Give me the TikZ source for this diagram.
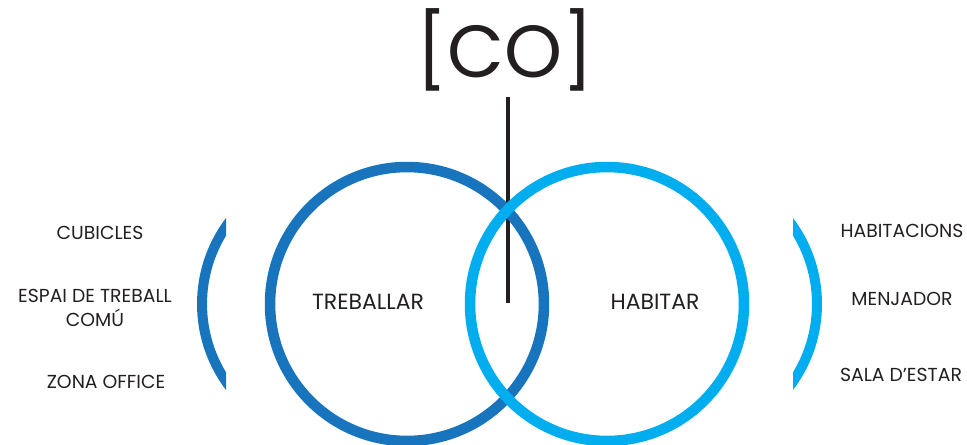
\documentclass[tikz,border=0pt]{standalone}
\usepackage{fontspec}
\setmainfont{Poppins}
\usetikzlibrary{positioning}
\definecolor{workblue}{HTML}{1874BC}
\definecolor{liveblue}{HTML}{00AEEF}
\definecolor{inkgray}{HTML}{231F20}

\begin{document}
\begin{tikzpicture}[x=0.02cm, y=0.02cm, inkgray,
  ring/.style={circle, draw, line width=6pt, minimum size=5.48cm, inner sep=0pt},
  bracketarc/.style={line width=5.7pt},
  areatext/.style={font=\fontsize{12.5}{15}\selectfont, align=center, inner sep=1pt},
  itemtext/.style={font=\fontsize{10.7}{13.5}\selectfont, align=center, inner sep=1pt}]

\useasboundingbox (0,0) rectangle (967,444);

% ============ Title and stem ============
\node[font=\fontsize{42}{42}\selectfont] (co) at (505,394) {[CO]};
\coordinate (stemtop) at (508,347);
\coordinate (meet) at (508,141);
\draw[line width=2.8pt] (stemtop) -- (meet);

% ============ The two circles ============
\node[ring, draw=workblue] (work) at (407,140) {};
\node[ring, draw=liveblue] (live) at (607,140) {};

\node[areatext] (treballar) at (368,142) {TREBALLAR};
\node[areatext] (habitar) at (655,142) {HABITAR};

% ============ Side brackets ============
\begin{scope}
  \clip (0,0) rectangle (226,444);
  \draw[bracketarc, workblue] (339,140) circle (2.74cm);
\end{scope}
\begin{scope}
  \clip (793,0) rectangle (967,444);
  \draw[bracketarc, liveblue] (680,140) circle (2.74cm);
\end{scope}

% Left: working spaces
\node[itemtext] (cubicles) at (100,211) {CUBICLES};
\node[itemtext] (espai) at (95,136) {ESPAI DE TREBALL\\COMÚ};
\node[itemtext] (office) at (106,62) {ZONA OFFICE};

% Right: living spaces
\node[itemtext] (habitacions) at (902,213) {HABITACIONS};
\node[itemtext] (menjador) at (902,145) {MENJADOR};
\node[itemtext] (sala) at (901,69) {SALA D’ESTAR};

\end{tikzpicture}
\end{document}
